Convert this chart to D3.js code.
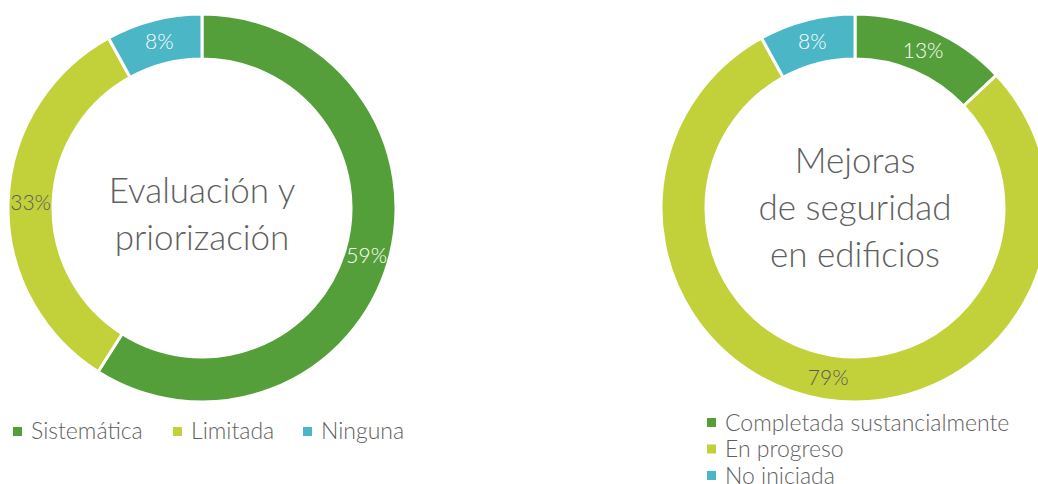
<!DOCTYPE html>
<html><head><meta charset="utf-8">
<script src="https://cdn.jsdelivr.net/npm/d3@7"></script>
<style>
html,body{margin:0;padding:0;background:#fff;}
svg{display:block;font-family:"Source Sans Pro","Lato","Open Sans",sans-serif;}
</style></head>
<body>
<svg id="chart" width="1038" height="484"></svg>
<script>
const leftTitle = ["Evaluación y", "priorización"];
const leftCategories = ["Sistemática", "Limitada", "Ninguna"];
const leftValues = [59, 33, 8];
const rightTitle = ["Mejoras", "de seguridad", "en edificios"];
const rightCategories = ["Completada sustancialmente", "En progreso", "No iniciada"];
const rightValues = [13, 79, 8];
const colors = ["#559f3a", "#c2d13a", "#4bb6c6"];
const labelColors = ["#ffffff", "#5a5a5a", "#ffffff"];

const svg = d3.select("#chart");
const textColor = "#5f5f5f";
const outerR = 194, innerR = 149;
const pie = d3.pie().sort(null).value(d => d.v);
const arc = d3.arc().innerRadius(innerR).outerRadius(outerR);

function donut(cx, cy, cats, vals, title, titleBase) {
  const g = svg.append("g").attr("transform", `translate(${cx},${cy})`);
  const data = pie(cats.map((c, i) => ({c, v: vals[i], i})));
  g.selectAll("path.slice").data(data).join("path")
    .attr("class", "slice")
    .attr("d", arc)
    .attr("fill", d => colors[d.data.i])
    .attr("stroke", "#fff").attr("stroke-width", 3);
  g.selectAll("text.lbl").data(data).join("text")
    .attr("class", "lbl")
    .attr("transform", d => `translate(${arc.centroid(d)})`)
    .attr("text-anchor", "middle").attr("dy", "0.35em")
    .attr("font-size", 21).attr("font-weight", 300)
    .attr("fill", d => labelColors[d.data.i])
    .text(d => d.data.v + "%");
  g.selectAll("text.title").data(title).join("text")
    .attr("class", "title")
    .attr("x", 0).attr("y", (d, i) => titleBase + i * 47)
    .attr("text-anchor", "middle")
    .attr("font-size", 35).attr("font-weight", 300)
    .attr("fill", textColor)
    .text(d => d);
}

donut(202, 208, leftCategories, leftValues, leftTitle, -5);
donut(855, 208, rightCategories, rightValues, rightTitle, -35);

// left legend (horizontal)
const legL = svg.append("g");
const leftX = [13, 173, 303];
leftCategories.forEach((c, i) => {
  legL.append("rect").attr("x", leftX[i]).attr("y", 427).attr("width", 9).attr("height", 9).attr("fill", colors[i]);
  legL.append("text").attr("x", leftX[i] + 18).attr("y", 431).attr("dy", "0.35em")
    .attr("font-size", 23).attr("font-weight", 300).attr("fill", textColor).text(c);
});
// right legend (vertical)
const legR = svg.append("g");
rightCategories.forEach((c, i) => {
  const cy = 422.5 + i * 26.5;
  legR.append("rect").attr("x", 707).attr("y", cy - 4.5).attr("width", 9).attr("height", 9).attr("fill", colors[i]);
  legR.append("text").attr("x", 725).attr("y", cy).attr("dy", "0.35em")
    .attr("font-size", 23).attr("font-weight", 300).attr("fill", textColor).text(c);
});
</script>
</body></html>
